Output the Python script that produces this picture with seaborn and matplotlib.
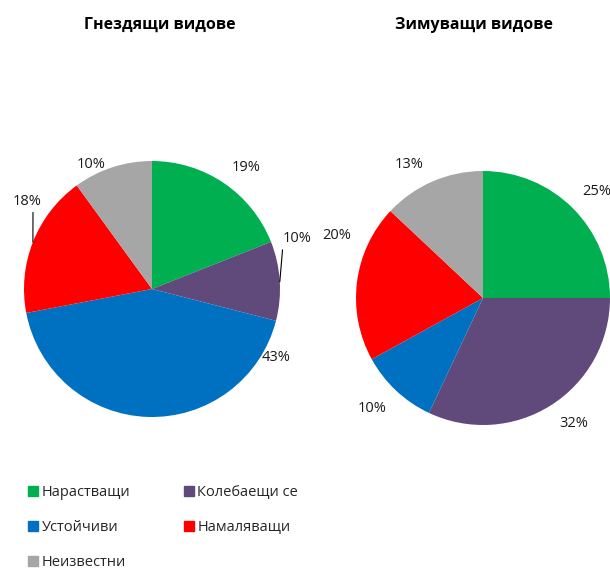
import numpy as np
import matplotlib.pyplot as plt
from matplotlib.lines import Line2D
import seaborn as sns

# ── Data ──────────────────────────────────────────────────────────────────────
categories = ["Нарастващи", "Колебаещи се", "Устойчиви", "Намаляващи", "Неизвестни"]
nesting = [19, 10, 43, 18, 10]      # Гнездящи видове, %
wintering = [25, 32, 10, 20, 13]    # Зимуващи видове, %
titles = ["Гнездящи видове", "Зимуващи видове"]

colors = ["#00B050", "#604A7B", "#0070C0", "#FF0000", "#A6A6A6"]

# label placement (angle in degrees, distance in radii) — mimics Excel best fit
left_label_pos = [(52, 1.20), (19, 1.20), (-29, 1.11), (145, 1.19), (116, 1.08)]
right_label_pos = [(43, 1.23), (-54, 1.22), (225, 1.23), (157, 1.25), (119, 1.20)]
# leader lines: label index -> angle of the edge point
left_leaders = {1: 3.2, 3: 158.5}

sns.set_theme(style="white")
plt.rcParams["font.family"] = ["Open Sans", "DejaVu Sans"]

W, H = 610, 569
fig = plt.figure(figsize=(W / 100, H / 100), dpi=100)
ax = fig.add_axes([0, 0, 1, 1])

pies = [
    (nesting, (152, H - 289), 128, left_label_pos, left_leaders, 160),
    (wintering, (483, H - 298), 127, right_label_pos, {}, 474),
]

for i, (vals, center, r, lpos, leaders, tx) in enumerate(pies):
    ax.pie(vals, colors=colors, startangle=90, counterclock=False,
           center=center, radius=r, wedgeprops={"linewidth": 0})
    cx, cy = center
    for j, v in enumerate(vals):
        ang, dist = lpos[j]
        lx = cx + r * dist * np.cos(np.radians(ang))
        ly = cy + r * dist * np.sin(np.radians(ang))
        if j in leaders:
            ea = np.radians(leaders[j])
            ex, ey = cx + r * np.cos(ea), cy + r * np.sin(ea)
            ax.annotate(f"{v}%", xy=(ex, ey), xytext=(lx, ly),
                        ha="center", va="center", fontsize=10.5, color="#1a1a1a",
                        arrowprops=dict(arrowstyle="-", color="black", lw=0.8,
                                        relpos=(0.0 if j == 1 else 0.7, 0.0),
                                        shrinkA=0, shrinkB=0))
        else:
            ax.text(lx, ly, f"{v}%", ha="center", va="center",
                    fontsize=10.5, color="#1a1a1a")
    ax.text(tx, H - 25, titles[i], ha="center", va="center",
            fontsize=11.5, fontweight="bold", color="black")

# pie() resets the limits, so fix them afterwards
ax.set_xlim(0, W)
ax.set_ylim(0, H)
ax.set_aspect("equal")
ax.axis("off")

# legend: matplotlib fills columns first, so reorder for row-wise reading
order = [0, 2, 4, 1, 3]
handles = [Line2D([], [], marker="s", linestyle="none", markersize=7,
                  markerfacecolor=colors[k], markeredgecolor=colors[k])
           for k in order]
fig.legend(handles, [categories[k] for k in order], ncol=2,
           loc="upper left", bbox_to_anchor=(14 / W, 1 - 472 / H),
           frameon=False, fontsize=10.5, handletextpad=0.15,
           handlelength=0.85, columnspacing=3.6, labelspacing=1.37)

fig.savefig("out.png", dpi=100)
